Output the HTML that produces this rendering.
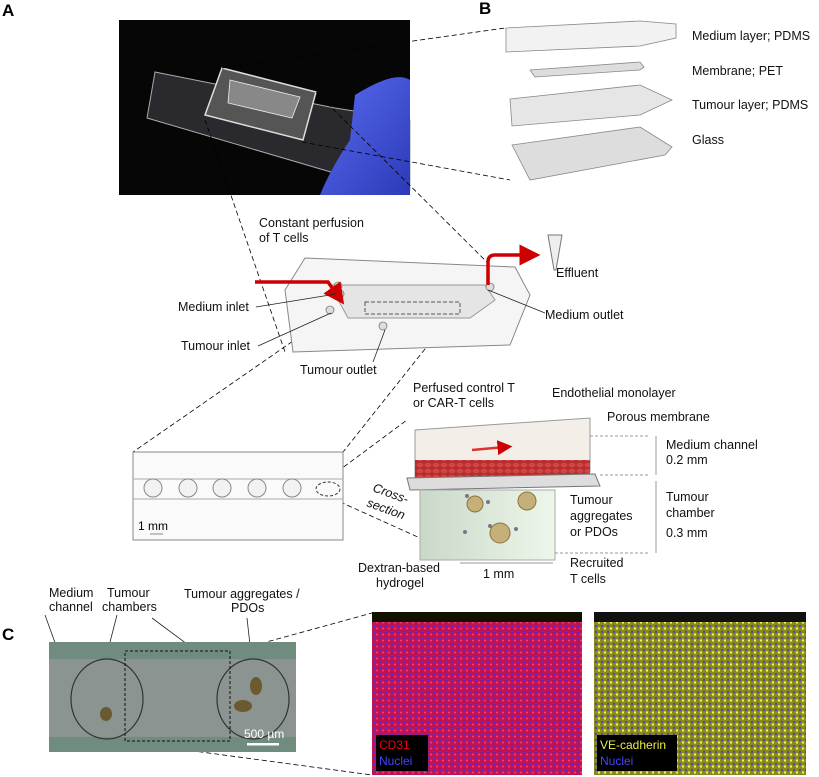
<!DOCTYPE html>
<html><head><meta charset="utf-8"><style>
body{margin:0;background:#fff}
svg{display:block;font-family:"Liberation Sans",sans-serif}
</style></head><body>
<svg width="819" height="777" viewBox="0 0 819 777" xmlns="http://www.w3.org/2000/svg">
<defs>
<linearGradient id="glove" x1="0" y1="0" x2="1" y2="1"><stop offset="0" stop-color="#5a6cf0"/><stop offset="1" stop-color="#2b3ab8"/></linearGradient>
<linearGradient id="hyd" x1="0" y1="0" x2="1" y2="0"><stop offset="0" stop-color="#c9d9c9"/><stop offset="1" stop-color="#eef6ea"/></linearGradient>
<pattern id="cells" width="8" height="6" patternUnits="userSpaceOnUse"><rect width="8" height="6" fill="#b52c2c"/><ellipse cx="4" cy="3" rx="3.5" ry="2.3" fill="#d24545"/></pattern>
<pattern id="red" width="6" height="6" patternUnits="userSpaceOnUse"><rect width="6" height="6" fill="#c0134f"/><circle cx="2" cy="2" r="1.3" fill="#5a2bd0"/><circle cx="5" cy="4.5" r="1" fill="#ff3a80"/></pattern>
<pattern id="yel" width="6" height="6" patternUnits="userSpaceOnUse"><rect width="6" height="6" fill="#8a8a1a"/><circle cx="2" cy="2" r="1.2" fill="#4a44c0"/><circle cx="5" cy="4.5" r="1.2" fill="#f0f060"/></pattern>
<marker id="ar" markerWidth="6" markerHeight="6" refX="3" refY="3" orient="auto"><path d="M0,0L6,3L0,6z" fill="#c00"/></marker>
</defs>
<g font-weight="bold" font-size="17"><text x="2" y="16">A</text><text x="479" y="14">B</text><text x="2" y="640">C</text></g>

<!-- photo A -->
<rect x="119" y="20" width="291" height="175" fill="#060606"/>
<polygon points="155,72 335,108 410,120 410,190 375,185 147,118" fill="#2a2a2e" stroke="#aaa" stroke-width="1"/>
<path d="M355,95 Q395,70 410,80 L410,195 L320,195 Q330,170 350,140z" fill="url(#glove)"/>
<polygon points="222,68 316,92 303,140 205,115" fill="#555" stroke="#ddd" stroke-width="1.5"/>
<polygon points="230,80 300,97 292,118 228,103" fill="#888" stroke="#eee" stroke-width="0.8"/>
<g stroke="#000" stroke-dasharray="5,3" fill="none" stroke-width="0.8">
<line x1="222" y1="68" x2="505" y2="28"/><line x1="302" y1="142" x2="510" y2="180"/>
<line x1="316" y1="92" x2="520" y2="295"/><line x1="205" y1="120" x2="285" y2="352"/>
<line x1="345" y1="305" x2="133" y2="452"/><line x1="460" y1="305" x2="343" y2="452"/>
<line x1="318" y1="486" x2="407" y2="420"/><line x1="318" y1="492" x2="420" y2="538"/>
<line x1="230" y1="652" x2="372" y2="613"/><line x1="127" y1="742" x2="372" y2="775"/>
</g>

<!-- B layers -->
<g stroke="#888" stroke-width="0.8" fill="#e8e8e8">
<polygon points="506,28 640,21 676,24 676,38 640,46 506,52" fill="#f2f2f2"/>
<polygon points="530,70 640,62 644,67 640,70 535,77" fill="#ddd"/>
<polygon points="510,99 640,85 672,100 640,115 512,126" fill="#e6e6e6"/>
<polygon points="512,145 640,127 672,147 665,155 530,180" fill="#ddd"/>
</g>
<g font-size="12.5" fill="#111"><text x="692" y="40">Medium layer; PDMS</text><text x="692" y="75">Membrane; PET</text><text x="692" y="109">Tumour layer; PDMS</text><text x="692" y="144">Glass</text></g>

<!-- middle chip -->
<polygon points="305,258 515,267 530,295 510,345 293,352 285,290" fill="#f5f5f5" stroke="#888"/>
<polygon points="330,285 485,285 495,300 470,318 348,318" fill="#e5e5e5" stroke="#999"/>
<rect x="365" y="302" width="95" height="12" fill="none" stroke="#555" stroke-dasharray="4,2"/>
<g fill="#ddd" stroke="#777" stroke-width="0.8"><circle cx="338" cy="286" r="4"/><circle cx="340" cy="294" r="4"/><circle cx="490" cy="287" r="4"/><circle cx="330" cy="310" r="4"/><circle cx="383" cy="326" r="4"/></g>
<path d="M255,282 L328,282 L338,296" fill="none" stroke="#c00" stroke-width="3.5" marker-end="url(#ar)"/>
<path d="M488,285 L488,262 Q488,255 495,255 L530,255" fill="none" stroke="#c00" stroke-width="3.5" marker-end="url(#ar)"/>
<path d="M548,235 L562,235 L556,270 L554,270z" fill="#eee" stroke="#777"/>
<g font-size="12.5" fill="#111">
<text x="259" y="227">Constant perfusion</text><text x="259" y="242">of T cells</text>
<text x="556" y="277">Effluent</text>
<text x="178" y="311">Medium inlet</text><text x="181" y="350">Tumour inlet</text>
<text x="300" y="374">Tumour outlet</text><text x="545" y="319">Medium outlet</text>
</g>
<g stroke="#222" stroke-width="0.8"><line x1="256" y1="307" x2="336" y2="294"/><line x1="258" y1="346" x2="331" y2="313"/><line x1="373" y1="362" x2="385" y2="330"/><line x1="488" y1="290" x2="545" y2="313"/></g>

<!-- zoom panel -->
<rect x="133" y="452" width="210" height="88" fill="#fafafa" stroke="#888"/>
<line x1="133" y1="479" x2="343" y2="479" stroke="#aaa"/><line x1="133" y1="499" x2="343" y2="499" stroke="#aaa"/>
<g fill="#f2f2f2" stroke="#888"><circle cx="153" cy="488" r="9"/><circle cx="188" cy="488" r="9"/><circle cx="222" cy="488" r="9"/><circle cx="257" cy="488" r="9"/><circle cx="292" cy="488" r="9"/></g>
<ellipse cx="328" cy="489" rx="12" ry="7" fill="none" stroke="#333" stroke-dasharray="3,2"/>
<text x="138" y="530" font-size="12">1 mm</text>
<line x1="150" y1="534" x2="163" y2="534" stroke="#888"/>

<!-- cross section -->
<polygon points="415,430 590,418 590,472 415,478" fill="#f3efe8" stroke="#999"/>
<rect x="415" y="460" width="175" height="18" fill="url(#cells)"/>
<polygon points="407,478 595,474 600,486 410,490" fill="#ddd" stroke="#777"/>
<polygon points="420,490 555,490 555,560 420,560" fill="url(#hyd)" stroke="#aaa"/>
<line x1="472" y1="450" x2="505" y2="447" stroke="#d33" stroke-width="2.5" marker-end="url(#ar)"/>
<g fill="#c6b07a" stroke="#8a7540"><circle cx="475" cy="504" r="8"/><circle cx="527" cy="501" r="9"/><circle cx="500" cy="533" r="10"/></g>
<g fill="#778" ><circle cx="467" cy="496" r="2"/><circle cx="488" cy="502" r="2"/><circle cx="490" cy="526" r="2"/><circle cx="516" cy="529" r="2"/><circle cx="465" cy="532" r="2"/></g>
<g stroke="#999" fill="none" stroke-dasharray="3,2"><line x1="590" y1="436" x2="650" y2="436"/><line x1="600" y1="475" x2="650" y2="475"/><line x1="555" y1="553" x2="650" y2="553"/></g>
<g stroke="#999"><line x1="656" y1="436" x2="656" y2="475"/><line x1="656" y1="481" x2="656" y2="553"/><line x1="460" y1="563" x2="553" y2="563"/></g>
<g font-size="12.5" fill="#111">
<text x="413" y="392">Perfused control T</text><text x="413" y="407">or CAR-T cells</text>
<text x="552" y="397">Endothelial monolayer</text><text x="607" y="421">Porous membrane</text>
<text x="666" y="449">Medium channel</text><text x="666" y="464">0.2 mm</text>
<text x="666" y="501">Tumour</text><text x="666" y="517">chamber</text><text x="666" y="537">0.3 mm</text>
<text x="570" y="504">Tumour</text><text x="570" y="520">aggregates</text><text x="570" y="536">or PDOs</text>
<text x="570" y="567">Recruited</text><text x="570" y="583">T cells</text>
<text x="358" y="572">Dextran-based</text><text x="376" y="587">hydrogel</text>
<text x="483" y="578">1 mm</text>
<text x="372" y="491" font-style="italic" transform="rotate(20 372 491)">Cross-</text><text x="366" y="506" font-style="italic" transform="rotate(20 366 506)">section</text>
<text x="49" y="597">Medium</text><text x="49" y="611">channel</text>
<text x="107" y="597">Tumour</text><text x="102" y="611">chambers</text>
<text x="184" y="598">Tumour aggregates /</text><text x="231" y="612">PDOs</text>
</g>
<g stroke="#222" stroke-width="0.8"><line x1="45" y1="615" x2="62" y2="662"/><line x1="117" y1="615" x2="102" y2="673"/><line x1="152" y1="618" x2="230" y2="676"/><line x1="247" y1="618" x2="255" y2="690"/></g>

<!-- C photo -->
<rect x="49" y="642" width="247" height="110" fill="#8b9490"/>
<rect x="49" y="642" width="247" height="17" fill="#6f8c7e"/><rect x="49" y="737" width="247" height="15" fill="#6f8c7e"/>
<g fill="none" stroke="#333" stroke-width="1.2"><ellipse cx="107" cy="699" rx="36" ry="40"/><ellipse cx="253" cy="699" rx="36" ry="40"/></g>
<g fill="#6a5a30"><ellipse cx="106" cy="714" rx="6" ry="7"/><ellipse cx="256" cy="686" rx="6" ry="9"/><ellipse cx="243" cy="706" rx="9" ry="6"/></g>
<rect x="125" y="651" width="105" height="90" fill="none" stroke="#111" stroke-dasharray="3,2"/>
<text x="244" y="738" font-size="12" fill="#fff">500 µm</text><rect x="247" y="743" width="32" height="2.5" fill="#fff"/>

<!-- fluorescent images -->
<rect x="372" y="612" width="210" height="163" fill="url(#red)"/>
<rect x="372" y="612" width="210" height="10" fill="#110"/>
<rect x="376" y="735" width="52" height="36" fill="#000"/>
<text x="379" y="749" font-size="12" fill="#e01">CD31</text><text x="379" y="765" font-size="12" fill="#44f">Nuclei</text>
<rect x="594" y="612" width="212" height="163" fill="url(#yel)"/>
<rect x="594" y="612" width="212" height="10" fill="#111"/>
<rect x="597" y="735" width="80" height="36" fill="#000"/>
<text x="600" y="749" font-size="12" fill="#ee4">VE-cadherin</text><text x="600" y="765" font-size="12" fill="#44f">Nuclei</text>
</svg>
</body></html>
